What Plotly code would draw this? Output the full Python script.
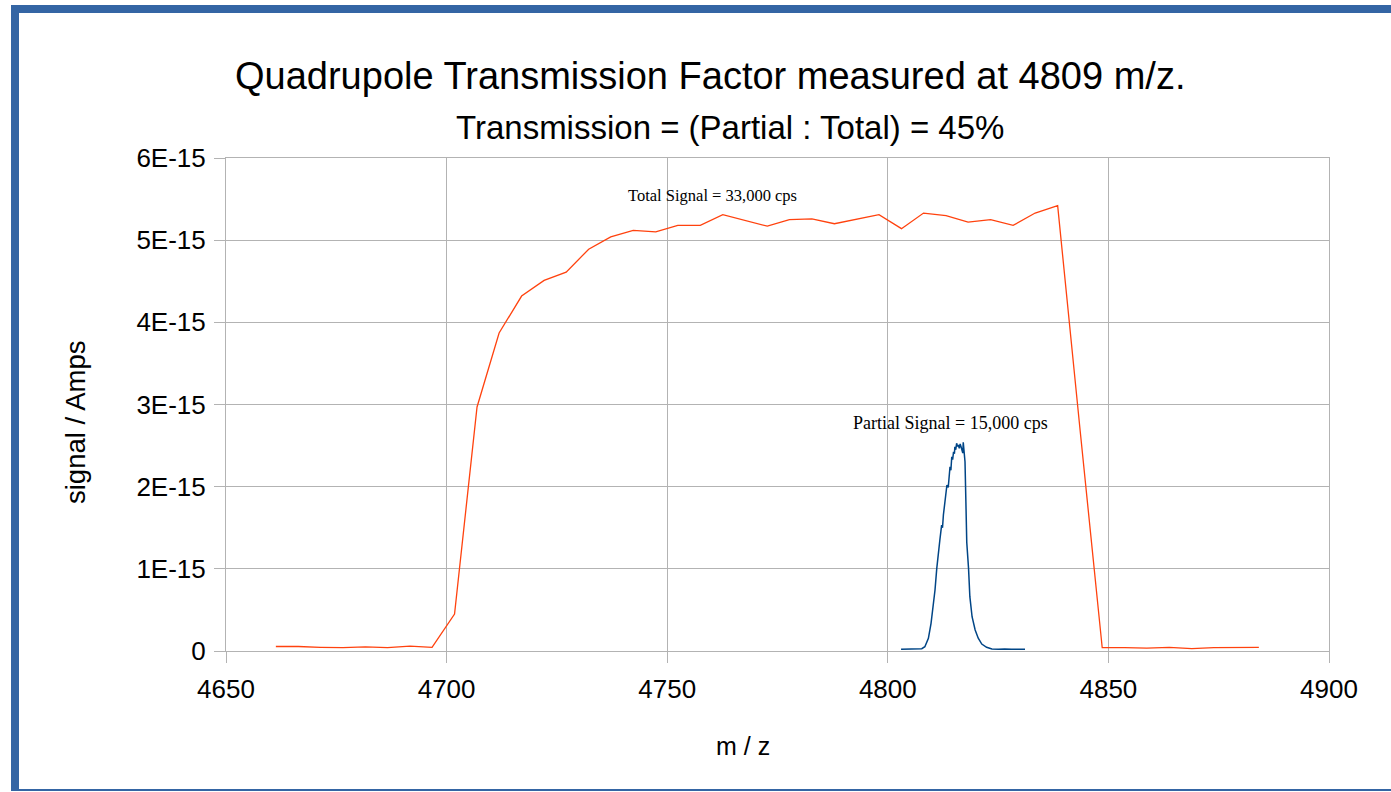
import numpy as np
import plotly.graph_objects as go

# ---- data (signal values in units of 1E-15 A) ----
total_mz = [4661.3, 4666.4, 4671.4, 4676.5, 4681.6, 4686.6, 4691.7, 4696.7,
            4701.8, 4706.9, 4711.9, 4717.0, 4722.1, 4727.1, 4732.2, 4737.2,
            4742.3, 4747.4, 4752.4, 4757.5, 4762.6, 4767.6, 4772.7, 4777.7,
            4782.8, 4787.9, 4792.9, 4798.0, 4803.1, 4808.1, 4813.2, 4818.2,
            4823.3, 4828.4, 4833.4, 4838.5, 4843.6, 4848.6, 4853.7, 4858.7,
            4863.8, 4868.9, 4873.9, 4879.0, 4884.1]
total_sig = [0.055, 0.055, 0.045, 0.040, 0.050, 0.040, 0.060, 0.045,
             0.45, 2.97, 3.87, 4.32, 4.51, 4.61, 4.89, 5.04,
             5.12, 5.10, 5.18, 5.18, 5.31, 5.24, 5.17, 5.25,
             5.26, 5.20, 5.25, 5.31, 5.14, 5.33, 5.30, 5.22,
             5.25, 5.18, 5.33, 5.42, 2.68, 0.040, 0.040, 0.035,
             0.045, 0.030, 0.040, 0.040, 0.045]

partial_mz = [4803.0, 4804.2, 4805.4, 4806.6, 4807.7, 4808.4, 4809.2, 4809.8,
              4810.3, 4810.7, 4811.1, 4811.4, 4811.8, 4812.2, 4812.4, 4812.6,
              4813.0, 4813.2, 4813.4, 4813.7, 4813.9, 4814.1, 4814.3, 4814.5,
              4814.7, 4814.9, 4815.1, 4815.2, 4815.4, 4815.6, 4815.8, 4816.0,
              4816.2, 4816.4, 4816.6, 4816.8, 4817.0, 4817.1, 4817.3, 4817.5,
              4817.7, 4817.9, 4818.3, 4818.6, 4819.1, 4819.8, 4820.5, 4821.3,
              4822.4, 4823.6, 4825.1, 4826.5, 4828.0, 4829.5, 4831.1]
partial_sig = [0.020, 0.022, 0.018, 0.024, 0.028, 0.052, 0.155, 0.337,
               0.539, 0.742, 1.006, 1.189, 1.351, 1.533, 1.500, 1.655,
               1.817, 1.880, 2.020, 1.990, 2.142, 2.243, 2.200, 2.365,
               2.330, 2.425, 2.400, 2.486, 2.450, 2.528, 2.490, 2.507,
               2.467, 2.520, 2.486, 2.430, 2.410, 2.540, 2.450, 2.304,
               1.817, 1.320, 1.006, 0.661, 0.417, 0.256, 0.155, 0.085,
               0.045, 0.024, 0.021, 0.025, 0.020, 0.023, 0.021]

y_tickvals = [0, 1, 2, 3, 4, 5, 6]
y_ticktext = ["0", "1E-15", "2E-15", "3E-15", "4E-15", "5E-15", "6E-15"]
x_tickvals = [4650, 4700, 4750, 4800, 4850, 4900]

scale = 1e-15
fig = go.Figure()
fig.add_trace(go.Scatter(x=total_mz, y=np.array(total_sig) * scale, mode="lines",
                         line=dict(color="#ff420e", width=1.3), name="Total"))
fig.add_trace(go.Scatter(x=partial_mz, y=np.array(partial_sig) * scale, mode="lines",
                         line=dict(color="#004586", width=1.5), name="Partial"))

font_sans = "Liberation Sans, Arial, sans-serif"
font_serif = "Liberation Serif, Times New Roman, serif"
grid = "#b3b3b3"

fig.update_layout(
    width=1391, height=792,
    margin=dict(l=226, r=62, t=158, b=141),
    paper_bgcolor="white", plot_bgcolor="white",
    showlegend=False,
    font=dict(family=font_sans, color="black"),
    xaxis=dict(range=[4650, 4900], tickvals=x_tickvals, showgrid=True, gridcolor=grid,
               gridwidth=1, zeroline=False, showline=True, linecolor=grid, mirror=True,
               ticks="outside", ticklen=11, tickcolor=grid, ticklabelstandoff=4,
               tickfont=dict(size=26, family=font_sans, color="black")),
    yaxis=dict(range=[0, 6 * scale], tickvals=[v * scale for v in y_tickvals], ticktext=y_ticktext,
               showgrid=True, gridcolor=grid, gridwidth=1, zeroline=False, showline=True,
               linecolor=grid, mirror=True, ticks="outside", ticklen=11, tickcolor=grid,
               ticklabelstandoff=3,
               tickfont=dict(size=26, family=font_sans, color="black")),
)

def px_x(p):
    return (p - 226) / 1103

def px_y(p):
    return (651 - p) / 493

# titles
fig.add_annotation(text="Quadrupole Transmission Factor measured at 4809 m/z.",
                   xref="paper", yref="paper", x=px_x(710), y=px_y(76),
                   showarrow=False, font=dict(size=38, family=font_sans, color="black"),
                   xanchor="center", yanchor="middle")
fig.add_annotation(text="Transmission = (Partial : Total) = 45%",
                   xref="paper", yref="paper", x=px_x(730), y=px_y(128),
                   showarrow=False, font=dict(size=33, family=font_sans, color="black"),
                   xanchor="center", yanchor="middle")

# axis titles
fig.add_annotation(text="m / z", xref="paper", yref="paper", x=px_x(743), y=px_y(746),
                   showarrow=False, font=dict(size=25, family=font_sans, color="black"),
                   xanchor="center", yanchor="middle")
fig.add_annotation(text="signal / Amps", xref="paper", yref="paper", x=px_x(75), y=px_y(422),
                   textangle=-90, showarrow=False,
                   font=dict(size=27.5, family=font_sans, color="black"),
                   xanchor="center", yanchor="middle")

# data labels
fig.add_annotation(text="Total Signal = 33,000 cps", x=4760.2, y=5.54 * scale,
                   showarrow=False, font=dict(size=16.5, family=font_serif, color="black"))
fig.add_annotation(text="Partial Signal = 15,000 cps", x=4814.3, y=2.77 * scale,
                   showarrow=False, font=dict(size=18, family=font_serif, color="black"))

# blue frame around the page
frame = "#3465a4"
fig.add_shape(type="rect", xref="paper", yref="paper", x0=px_x(11), x1=px_x(19),
              y0=px_y(791), y1=px_y(5), fillcolor=frame, line=dict(width=0), layer="above")
fig.add_shape(type="rect", xref="paper", yref="paper", x0=px_x(11), x1=px_x(1395),
              y0=px_y(13), y1=px_y(5), fillcolor=frame, line=dict(width=0), layer="above")
fig.add_shape(type="rect", xref="paper", yref="paper", x0=px_x(11), x1=px_x(1395),
              y0=px_y(791), y1=px_y(789), fillcolor=frame, line=dict(width=0), layer="above")

fig.write_html("out.html", config={"displayModeBar": False},
               post_script="document.body.style.margin='0px';document.body.style.overflow='hidden';")
